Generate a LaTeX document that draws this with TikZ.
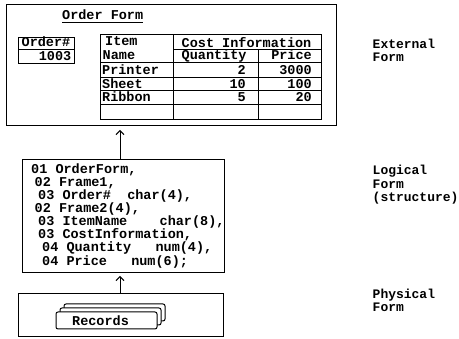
\documentclass[tikz,border=0pt]{standalone}
\usepackage{fontspec}
\newfontfamily\dmfont{Liberation Mono}
\usetikzlibrary{arrows.meta}
\tikzset{
  txt/.style={font=\dmfont\bfseries\fontsize{13.5}{13.5}\selectfont, inner sep=0pt, anchor=base west},
  txtr/.style={txt, anchor=base east},
  lbl/.style={font=\dmfont\bfseries\fontsize{13}{13}\selectfont, inner sep=0pt, anchor=base west},
  box/.style={draw, line width=1pt, inner sep=0pt, outer sep=0pt},
  card/.style={box, fill=white, rounded corners=2pt},
  arr/.style={line width=1pt, -{Straight Barb[length=4pt,width=8pt]}},
  rule/.style={line width=1pt}
}
\begin{document}
\begin{tikzpicture}[x=1pt,y=-1pt]
\useasboundingbox (0,0) rectangle (459,339);
% ---------- External form ----------
\node[box, minimum width=330pt, minimum height=121pt] (ext) at (171.5,65.5) {};
\node[txt] (title) at (62,19.5) {Order Form};
\draw[rule] ([yshift=-3pt]title.base west) -- ([yshift=-3pt]title.base east);
% Order# box
\node[box, minimum width=55.5pt, minimum height=26pt] (ordbox) at (46.25,50.5) {};
\draw[rule] (ordbox.west |- 0,50) -- (ordbox.east |- 0,50);
\node[txt] (ordh) at (21.5,47) {Order\#};
\node[txtr] (ordv) at (71.5,60.5) {1003};
% table
\node[box, minimum width=221pt, minimum height=85.5pt] (tab) at (210.5,77.25) {};
\draw[rule] (173.3,34.5) -- (173.3,120);
\draw[rule] (258.3,50) -- (258.3,120);
\draw[rule] (173.3,50) -- (321,50);
\foreach \yy in {62.3,77.3,90.7,105}{\draw[rule] (100,\yy) -- (321,\yy);}
\node[txt] (h1) at (105,46) {Item};
\node[txt] (h2) at (102.5,60) {Name};
\node[txt] (h3) at (181.5,47.5) {Cost Information};
\node[txt] (h4) at (181.5,60) {Quantity};
\node[txtr] (h5) at (312,60) {Price};
\node[txt] (r1) at (102,74.5) {Printer};
\node[txtr] (q1) at (246,74.5) {2};
\node[txtr] (p1) at (312,74.5) {3000};
\node[txt] (r2) at (102,88.3) {Sheet};
\node[txtr] (q2) at (246,88.3) {10};
\node[txtr] (p2) at (312,88.3) {100};
\node[txt] (r3) at (102,102) {Ribbon};
\node[txtr] (q3) at (246,102) {5};
\node[txtr] (p3) at (312,102) {20};
% ---------- Logical form ----------
\node[box, minimum width=202pt, minimum height=113pt] (logic) at (123.5,216.5) {};
\node[txt] (l1) at (31,173.5) {01 OrderForm,};
\node[txt] (l2) at (34.5,186.5) {02 Frame1,};
\node[txt] (l3) at (38,199.5) {03 Order\#\ \ char(4),};
\node[txt] (l4) at (34.5,212.5) {02 Frame2(4),};
\node[txt] (l5) at (38,225.5) {03 ItemName\ \ \ \ char(8),};
\node[txt] (l6) at (38,238.5) {03 CostInformation,};
\node[txt] (l7) at (42,252) {04 Quantity\ \ \ num(4),};
\node[txt] (l8) at (42,265.5) {04 Price\ \ \ num(6);};
% ---------- Physical form ----------
\node[box, minimum width=205pt, minimum height=43pt] (phys) at (120.5,315.5) {};
\node[card, minimum width=101pt, minimum height=17pt] (c3) at (114.5,312.5) {};
\node[card, minimum width=101pt, minimum height=17pt] (c2) at (110.5,316.5) {};
\node[card, minimum width=101pt, minimum height=17pt] (c1) at (106.5,320.5) {};
\node[txt] (rec) at (72,326) {Records};
% ---------- arrows ----------
\draw[arr, shorten >=4pt] ([xshift=-3.5pt]logic.north) -- ([xshift=-3.5pt]logic.north |- ext.south);
\draw[arr, shorten >=3pt] ([xshift=-0.5pt]phys.north) -- ([xshift=-0.5pt]phys.north |- logic.south);
% ---------- labels ----------
\node[lbl] (e1) at (372.5,48.5) {External};
\node[lbl] (e2) at (372.5,62) {Form};
\node[lbl] (g1) at (372.5,175) {Logical};
\node[lbl] (g2) at (372.5,188.3) {Form};
\node[lbl] (g3) at (372.5,201.5) {(structure)};
\node[lbl] (f1) at (372.5,298.5) {Physical};
\node[lbl] (f2) at (372.5,312) {Form};
\end{tikzpicture}
\end{document}
